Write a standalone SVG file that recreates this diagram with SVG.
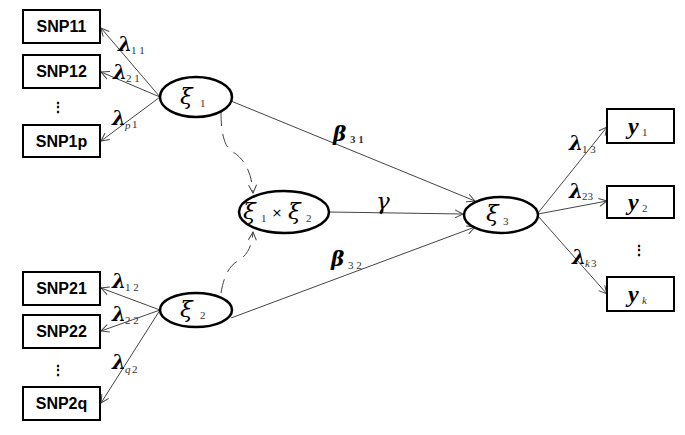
<svg xmlns="http://www.w3.org/2000/svg" width="685" height="435" viewBox="0 0 685 435">
<style>
.box{fill:#fff;stroke:#000;stroke-width:2}
.ell{fill:#fff;stroke:#000;stroke-width:2.5}
.snp{font-family:"Liberation Sans",Arial,sans-serif;font-weight:bold;font-size:16px;fill:#000;text-anchor:middle}
.gr{font-family:"DejaVu Serif",serif;font-style:italic;font-size:23px;fill:#000}
.lam{font-family:"DejaVu Serif",serif;font-style:italic;font-weight:bold;font-size:20px;fill:#000}
.yv{font-family:"Liberation Serif",serif;font-style:italic;font-weight:bold;font-size:24px;fill:#000}
.sub{font-family:"Liberation Serif","DejaVu Serif",serif;font-size:11px;fill:#333}
.subi{font-family:"Liberation Serif","DejaVu Serif",serif;font-style:italic;font-size:11px;fill:#333}
.ln{fill:none;stroke:#444;stroke-width:1}
.dash{fill:none;stroke:#444;stroke-width:1;stroke-dasharray:14 8}
.dots{font-family:"Liberation Sans",Arial,sans-serif;font-weight:bold;font-size:14px;fill:#000;text-anchor:middle}
</style>
<defs>
<marker id="arr" markerWidth="10" markerHeight="10" refX="9" refY="5" orient="auto" markerUnits="userSpaceOnUse">
<path d="M1,1 L9,5 L1,9" fill="none" stroke="#444" stroke-width="1"/>
</marker>
</defs>
<rect width="685" height="435" fill="#fff"/>
<g id="connectors">
<line class="ln" x1="160" y1="97" x2="101" y2="28" marker-end="url(#arr)"/>
<line class="ln" x1="160" y1="97" x2="101" y2="72" marker-end="url(#arr)"/>
<line class="ln" x1="160" y1="97" x2="101" y2="141" marker-end="url(#arr)"/>
<line class="ln" x1="160" y1="310" x2="101" y2="288" marker-end="url(#arr)"/>
<line class="ln" x1="160" y1="310" x2="101" y2="331" marker-end="url(#arr)"/>
<line class="ln" x1="160" y1="310" x2="101" y2="403" marker-end="url(#arr)"/>
<line class="ln" x1="231" y1="101" x2="475" y2="201" marker-end="url(#arr)"/>
<line class="ln" x1="329" y1="212" x2="463" y2="214" marker-end="url(#arr)"/>
<line class="ln" x1="231" y1="318" x2="475" y2="227" marker-end="url(#arr)"/>
<line class="ln" x1="538" y1="213" x2="607" y2="127" marker-end="url(#arr)"/>
<line class="ln" x1="538" y1="214" x2="607" y2="201" marker-end="url(#arr)"/>
<line class="ln" x1="538" y1="216" x2="607" y2="294" marker-end="url(#arr)"/>
<path class="dash" d="M221,112 C221,135 225,148 233,152 C246,160 252,175 253,193" marker-end="url(#arr)"/>
<path class="dash" d="M221,293 C224,275 230,265 238,261 C248,255 252,245 253,232" marker-end="url(#arr)"/>
</g>
<g id="labels">
<text class="lam" x="118" y="51">λ</text><text class="sub" x="131" y="54">1 1</text>
<text class="lam" x="113" y="79">λ</text><text class="sub" x="126" y="82">2 1</text>
<text class="lam" x="112" y="125">λ</text><text class="subi" x="125" y="129">p</text><text class="sub" x="132" y="128">1</text>
<text class="lam" x="112" y="288">λ</text><text class="sub" x="125" y="291">1 2</text>
<text class="lam" x="112" y="321">λ</text><text class="sub" x="125" y="324">2 2</text>
<text class="lam" x="112" y="369">λ</text><text class="subi" x="125" y="373">q</text><text class="sub" x="132" y="373">2</text>
<text class="lam" x="569" y="150">λ</text><text class="sub" x="582" y="153">1 3</text>
<text class="lam" x="569" y="198">λ</text><text class="sub" x="582" y="200">23</text>
<text class="lam" x="572" y="264">λ</text><text class="subi" x="585" y="267">k</text><text class="sub" x="591" y="267">3</text>
<text class="lam" x="333" y="141" font-size="24">β</text><text class="sub" x="350" y="143" font-weight="bold" font-size="12" fill="#000">3 1</text>
<text class="lam" x="331" y="266" font-size="24">β</text><text class="sub" x="348" y="269" font-size="12">3 2</text>
<text class="gr" x="376" y="209" font-size="20">γ</text>
</g>
<g id="SNP11"><rect class="box" x="23" y="10" width="77" height="33"/><text class="snp" x="61.5" y="32">SNP11</text></g>
<g id="SNP12"><rect class="box" x="23" y="55" width="77" height="33"/><text class="snp" x="61.5" y="77">SNP12</text></g>
<text class="dots" x="58" y="112">⋮</text>
<g id="SNP1p"><rect class="box" x="23" y="125" width="77" height="32"/><text class="snp" x="61.5" y="147">SNP1p</text></g>
<g id="SNP21"><rect class="box" x="23" y="272" width="77" height="33"/><text class="snp" x="61.5" y="294">SNP21</text></g>
<g id="SNP22"><rect class="box" x="23" y="315" width="77" height="33"/><text class="snp" x="61.5" y="337">SNP22</text></g>
<text class="dots" x="58" y="375">⋮</text>
<g id="SNP2q"><rect class="box" x="23" y="387" width="77" height="33"/><text class="snp" x="61.5" y="409">SNP2q</text></g>
<g id="xi1"><ellipse class="ell" cx="196" cy="97" rx="36" ry="20"/><text class="gr" x="180" y="104">ξ</text><text class="sub" x="200" y="107">1</text></g>
<g id="xi2"><ellipse class="ell" cx="196" cy="310" rx="36" ry="17"/><text class="gr" x="180" y="317">ξ</text><text class="sub" x="200" y="319">2</text></g>
<g id="xi1xi2"><ellipse class="ell" cx="284" cy="212" rx="45" ry="21"/><text class="gr" x="243" y="219">ξ</text><text class="sub" x="261" y="222">1</text><text x="277" y="217" font-family="DejaVu Sans,sans-serif" font-size="13" text-anchor="middle" fill="#000">×</text><text class="gr" x="288" y="219">ξ</text><text class="sub" x="306" y="222">2</text></g>
<g id="xi3"><ellipse class="ell" cx="501" cy="215" rx="37" ry="18"/><text class="gr" x="486" y="221">ξ</text><text class="sub" x="503" y="225">3</text></g>
<g id="y1"><rect class="box" x="607" y="109" width="67" height="34"/><text class="yv" x="628" y="134">y</text><text class="sub" x="642" y="136">1</text></g>
<g id="y2"><rect class="box" x="607" y="186" width="67" height="32"/><text class="yv" x="628" y="210">y</text><text class="sub" x="642" y="212">2</text></g>
<text class="dots" x="639" y="255">⋮</text>
<g id="yk"><rect class="box" x="607" y="277" width="67" height="34"/><text class="yv" x="628" y="302">y</text><text class="subi" x="642" y="304">k</text></g>
</svg>
